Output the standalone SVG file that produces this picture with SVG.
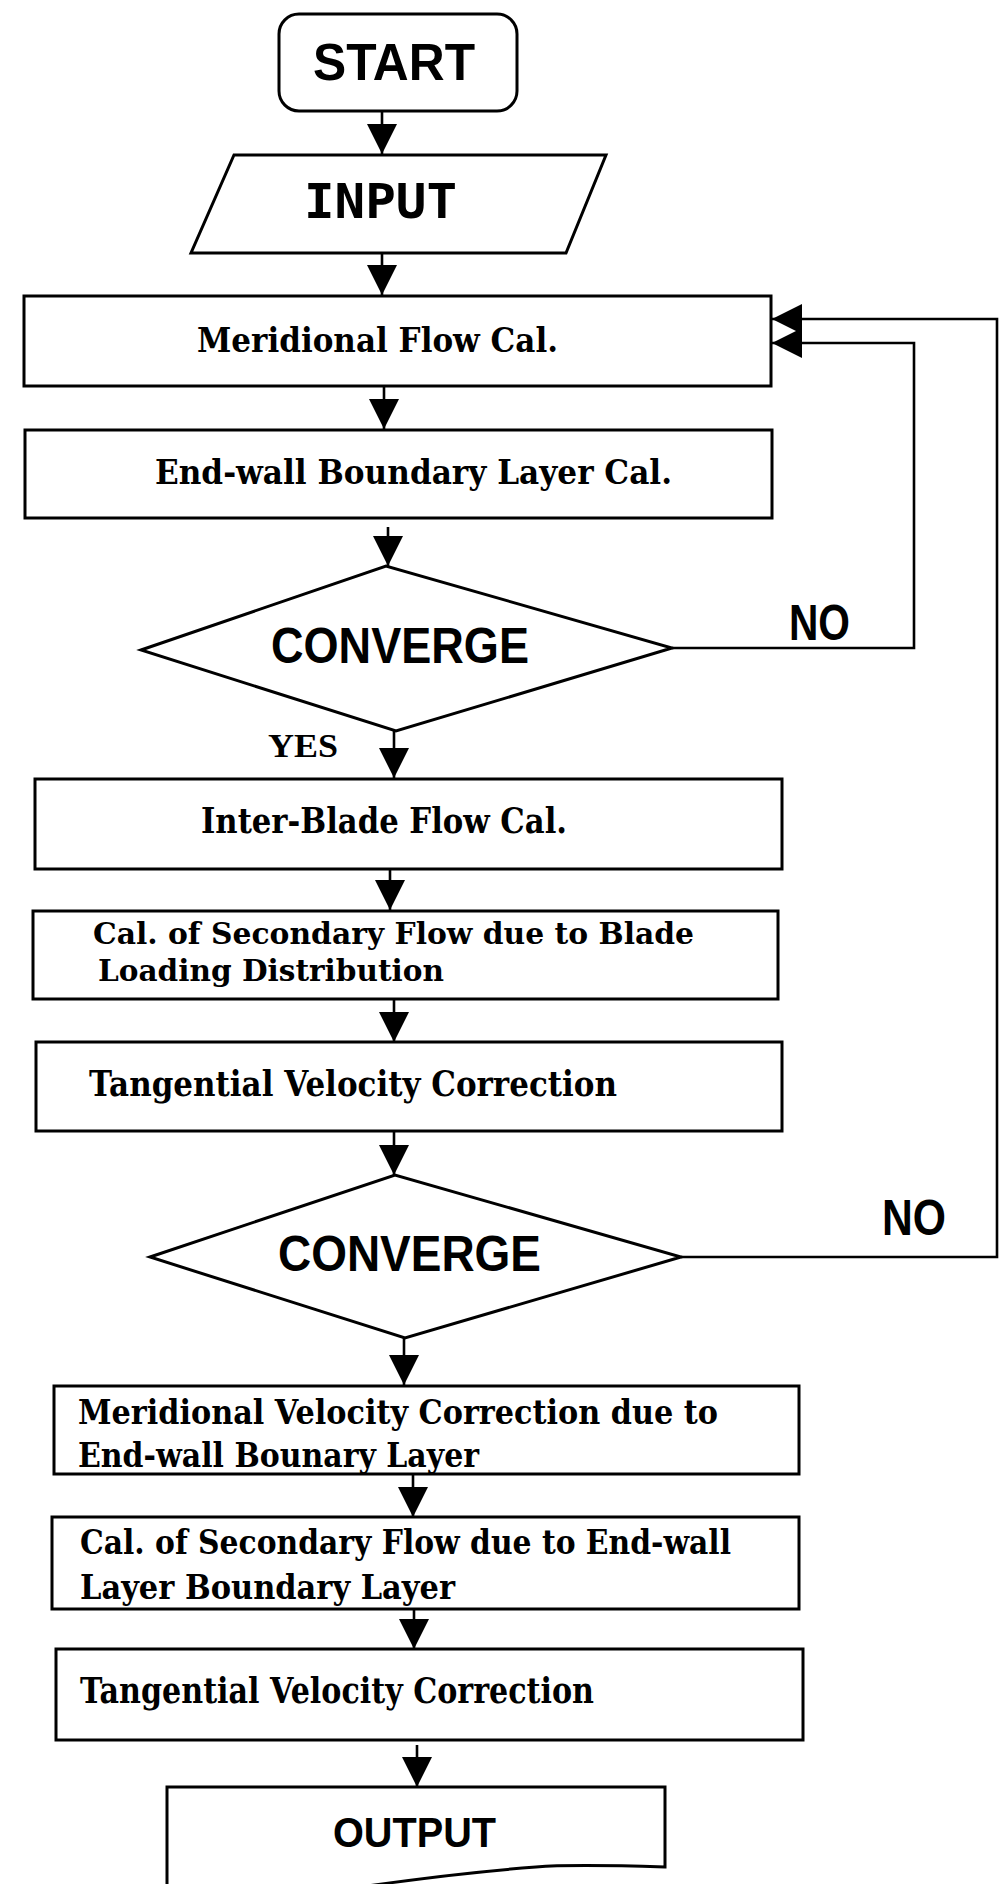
<svg xmlns="http://www.w3.org/2000/svg" width="999" height="1884" viewBox="0 0 999 1884">
<defs>
<style>
.box{fill:#fff;stroke:#000;stroke-width:3}
.ln{fill:none;stroke:#000;stroke-width:2.6}
.sf{font-family:"DejaVu Serif","Liberation Serif",serif;font-weight:bold;font-size:34px;fill:#000}
.ss{font-family:"Liberation Sans",Arial,sans-serif;font-weight:bold;font-size:50px;fill:#000}
.mono{font-family:"DejaVu Sans Mono","Liberation Mono",monospace;font-weight:bold;font-size:48px;fill:#000}
</style>
<marker id="ah" viewBox="0 0 30 30" markerWidth="30" markerHeight="30" refX="30" refY="15" markerUnits="userSpaceOnUse" orient="auto">
<path d="M0,0 L30,15 L0,30 Z" fill="#000"/>
</marker>
</defs>
<rect width="999" height="1884" fill="#fff"/>

<g id="start">
<rect class="box" x="279" y="14" width="238" height="97" rx="20" ry="20"/>
<text class="ss" x="313" y="80" textLength="162" lengthAdjust="spacingAndGlyphs" style="font-size:52px">START</text>
</g>

<g id="input">
<polygon class="box" points="234,155 606,155 566,253 191,253"/>
<text class="mono" x="304" y="218" textLength="153" lengthAdjust="spacingAndGlyphs">INPUT</text>
</g>

<g id="meridional-flow">
<rect class="box" x="24" y="296" width="747" height="90"/>
<text class="sf" x="197" y="352" textLength="361" lengthAdjust="spacingAndGlyphs">Meridional Flow Cal.</text>
</g>

<g id="endwall-bl">
<rect class="box" x="25" y="430" width="747" height="88"/>
<text class="sf" x="155" y="484" textLength="517" lengthAdjust="spacingAndGlyphs">End-wall Boundary Layer Cal.</text>
</g>

<g id="converge1">
<polygon class="box" points="141,650 386,566 672,648 396,731"/>
<text class="ss" x="271" y="663" textLength="258" lengthAdjust="spacingAndGlyphs">CONVERGE</text>
</g>

<g id="inter-blade">
<rect class="box" x="35" y="779" width="747" height="90"/>
<text class="sf" x="201" y="833" textLength="366" lengthAdjust="spacingAndGlyphs" style="font-size:36px">Inter-Blade Flow Cal.</text>
</g>

<g id="secondary-blade">
<rect class="box" x="33" y="911" width="745" height="88"/>
<text class="sf" x="93" y="944" textLength="601" lengthAdjust="spacingAndGlyphs" style="font-size:30px">Cal. of Secondary Flow due to Blade</text>
<text class="sf" x="98" y="981" textLength="346" lengthAdjust="spacingAndGlyphs" style="font-size:30px">Loading Distribution</text>
</g>

<g id="tangential1">
<rect class="box" x="36" y="1042" width="746" height="89"/>
<text class="sf" x="89" y="1096" textLength="528" lengthAdjust="spacingAndGlyphs" style="font-size:36px">Tangential Velocity Correction</text>
</g>

<g id="converge2">
<polygon class="box" points="150,1257 395,1175 681,1257 405,1338"/>
<text class="ss" x="278" y="1271" textLength="263" lengthAdjust="spacingAndGlyphs">CONVERGE</text>
</g>

<g id="meridional-velocity">
<rect class="box" x="54" y="1386" width="745" height="88"/>
<text class="sf" x="78" y="1424" textLength="640" lengthAdjust="spacingAndGlyphs">Meridional Velocity Correction due to</text>
<text class="sf" x="78" y="1467" textLength="401" lengthAdjust="spacingAndGlyphs">End-wall Bounary Layer</text>
</g>

<g id="secondary-endwall">
<rect class="box" x="52" y="1517" width="747" height="92"/>
<text class="sf" x="80" y="1554" textLength="651" lengthAdjust="spacingAndGlyphs">Cal. of Secondary Flow due to End-wall</text>
<text class="sf" x="80" y="1599" textLength="375" lengthAdjust="spacingAndGlyphs">Layer Boundary Layer</text>
</g>

<g id="tangential2">
<rect class="box" x="56" y="1649" width="747" height="91"/>
<text class="sf" x="80" y="1703" textLength="514" lengthAdjust="spacingAndGlyphs" style="font-size:35px">Tangential Velocity Correction</text>
</g>

<g id="output">
<path class="box" d="M167,1890 V1787 H665 V1867 C600,1865 560,1865 536,1867 C470,1872 420,1878 340,1890 Z"/>
<text class="ss" x="333" y="1847" textLength="163" lengthAdjust="spacingAndGlyphs" style="font-size:42px">OUTPUT</text>
</g>

<g id="connectors">
<line class="ln" x1="382" y1="112" x2="382" y2="154" marker-end="url(#ah)"/>
<line class="ln" x1="382" y1="253" x2="382" y2="295" marker-end="url(#ah)"/>
<line class="ln" x1="384" y1="386" x2="384" y2="429" marker-end="url(#ah)"/>
<line class="ln" x1="388" y1="527" x2="388" y2="566" marker-end="url(#ah)"/>
<line class="ln" x1="394" y1="731" x2="394" y2="778" marker-end="url(#ah)"/>
<line class="ln" x1="390" y1="869" x2="390" y2="910" marker-end="url(#ah)"/>
<line class="ln" x1="394" y1="999" x2="394" y2="1042" marker-end="url(#ah)"/>
<line class="ln" x1="394" y1="1131" x2="394" y2="1175" marker-end="url(#ah)"/>
<line class="ln" x1="404" y1="1338" x2="404" y2="1385" marker-end="url(#ah)"/>
<line class="ln" x1="413" y1="1474" x2="413" y2="1517" marker-end="url(#ah)"/>
<line class="ln" x1="414" y1="1609" x2="414" y2="1649" marker-end="url(#ah)"/>
<line class="ln" x1="417" y1="1745" x2="417" y2="1787" marker-end="url(#ah)"/>
<path class="ln" d="M672,648 H914 V343 H772" marker-end="url(#ah)"/>
<path class="ln" d="M681,1257 H997 V319 H772" marker-end="url(#ah)"/>
<text class="ss" x="789" y="640" textLength="61" lengthAdjust="spacingAndGlyphs">NO</text>
<text class="ss" x="882" y="1235" textLength="64" lengthAdjust="spacingAndGlyphs">NO</text>
<text class="sf" x="268" y="757" textLength="70" lengthAdjust="spacingAndGlyphs" style="font-family:'Liberation Serif',serif;font-size:34px">YES</text>
</g>
</svg>
